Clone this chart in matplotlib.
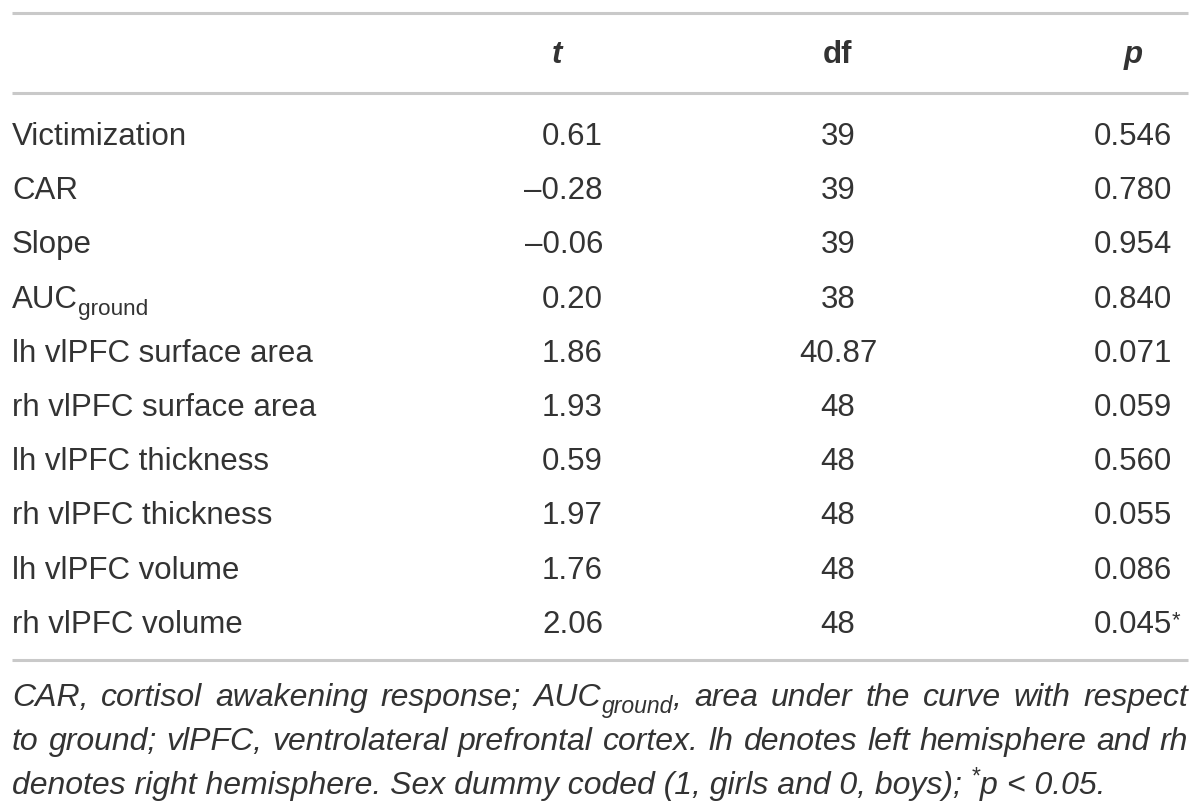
import matplotlib
matplotlib.use("Agg")
import matplotlib.pyplot as plt

# table content
labels = ["Victimization", "CAR", "Slope", "AUC", "lh vlPFC surface area",
          "rh vlPFC surface area", "lh vlPFC thickness", "rh vlPFC thickness",
          "lh vlPFC volume", "rh vlPFC volume"]
label_subs = ["", "", "", "ground", "", "", "", "", "", ""]
t_vals = [0.61, -0.28, -0.06, 0.20, 1.86, 1.93, 0.59, 1.97, 1.76, 2.06]
df_vals = [39, 39, 39, 38, 40.87, 48, 48, 48, 48, 48]
p_vals = [0.546, 0.780, 0.954, 0.840, 0.071, 0.059, 0.560, 0.055, 0.086, 0.045]
headers = ["t", "df", "p"]

FONT = "Liberation Sans"
TXT = "#333333"
RULE = "#c9c9c9"
FS = 22.5
FS_NOTE = 23.0

W, H = 1200, 809
fig = plt.figure(figsize=(W / 100, H / 100), dpi=100)
ax = fig.add_axes([0, 0, 1, 1])
ax.set_xlim(0, W); ax.set_ylim(H, 0); ax.axis("off")
fig.canvas.draw()
rend = fig.canvas.get_renderer()


def width(t):
    return t.get_window_extent(renderer=rend).width


def run(x, y, parts, fs, style="normal"):
    """draw text pieces one after another; (text, kind) where kind is n/sub/sup"""
    for s, kind in parts:
        size = fs * 0.72 if kind != "n" else fs
        dy = {"n": 0, "sub": 7, "sup": -10}[kind]
        t = ax.text(x, y + dy, s, fontsize=size, family=FONT, style=style,
                    color=TXT, va="baseline", ha="left")
        x += width(t)
    return x


# rules
for yy in (13, 93, 660):
    ax.plot([12, 1188], [yy, yy], color=RULE, lw=2.2, solid_capstyle="butt")

# header
hx = [557, 838, 1133]
hstyle = ["italic", "normal", "italic"]
for x, h, st in zip(hx, headers, hstyle):
    ax.text(x, 63, h, fontsize=FS, family=FONT, weight="bold", style=st,
            color=TXT, ha="center", va="baseline")

# rows
y0, dy = 145, 54.2
for i, lab in enumerate(labels):
    y = y0 + i * dy
    parts = [(lab, "n")]
    if label_subs[i]:
        parts.append((label_subs[i], "sub"))
    run(12, y, parts, FS)
    tv = t_vals[i]
    ts = ("\u2013" if tv < 0 else "") + f"{abs(tv):.2f}"
    ax.text(603, y, ts, fontsize=FS, family=FONT, color=TXT, ha="right", va="baseline")
    ax.text(838, y, f"{df_vals[i]:g}", fontsize=FS, family=FONT, color=TXT,
            ha="center", va="baseline")
    ax.text(1172, y, f"{p_vals[i]:.3f}", fontsize=FS, family=FONT, color=TXT,
            ha="right", va="baseline")
    if p_vals[i] < 0.05:
        ax.text(1172, y - 7, "*", fontsize=FS * 0.7, family=FONT, color=TXT,
                ha="left", va="baseline")

# footnote (first two lines justified)
note_lines = [
    [("CAR, cortisol awakening response; AUC", "n"), ("ground", "sub"),
     (", area under the curve with respect", "n")],
    [("to ground; vlPFC, ventrolateral prefrontal cortex. lh denotes left hemisphere and rh", "n")],
    [("denotes right hemisphere. Sex dummy coded (1, girls and 0, boys); ", "n"),
     ("*", "sup"), ("p", "n"), (" < 0.05.", "n")],
]
note_y = [706, 750, 794]
left, right = 12, 1188


def words_of(parts):
    # split into words; subscript pieces stick to the previous word
    words = []
    for s, kind in parts:
        if kind == "n":
            toks = s.split(" ")
            for j, tok in enumerate(toks):
                if j == 0 and words and not s.startswith(" "):
                    words[-1].append((tok, kind))
                elif tok:
                    words.append([(tok, kind)])
        else:
            if words:
                words[-1].append((s, kind))
            else:
                words.append([(s, kind)])
    return [w for w in words if any(p[0] for p in w)]


for k, (parts, y) in enumerate(zip(note_lines, note_y)):
    if k < 2:
        words = words_of(parts)
        n0 = len(ax.texts)
        sizes = [run(0, -100, w, FS_NOTE, style="italic") for w in words]
        for t in list(ax.texts)[n0:]:
            t.remove()
        gap = (right - left - sum(sizes)) / (len(words) - 1)
        print("gap", k, gap)
        x = left
        for w, ww in zip(words, sizes):
            run(x, y, w, FS_NOTE, style="italic")
            x += ww + gap
    else:
        run(left, y, parts, FS_NOTE, style="italic")

fig.savefig("out.png", dpi=100, facecolor="white")
